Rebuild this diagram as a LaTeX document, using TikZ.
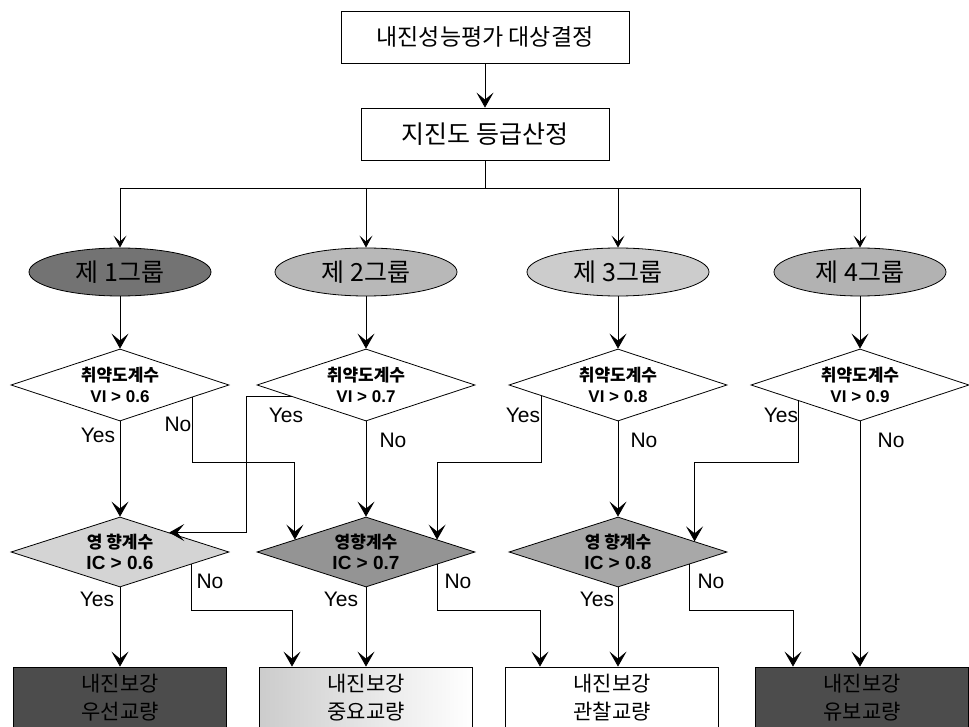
\documentclass[tikz,border=0pt]{standalone}
\usepackage{fontspec}
\setmainfont{Liberation Sans}
\newfontfamily\krfont{Noto Sans CJK KR}
\usetikzlibrary{arrows.meta, shapes.geometric, calc}
\definecolor{grpone}{gray}{0.45}
\definecolor{grptwo}{gray}{0.72}
\definecolor{grpthree}{gray}{0.80}
\definecolor{grpfour}{gray}{0.70}
\definecolor{icone}{gray}{0.83}
\definecolor{ictwo}{gray}{0.58}
\definecolor{icthree}{gray}{0.66}
\definecolor{resdark}{gray}{0.30}
\definecolor{resmid}{gray}{0.80}

\begin{document}
\begin{tikzpicture}[x=1pt, y=-1pt,
    procbox/.style={draw, line width=0.8pt, fill=white, minimum width=#1, minimum height=52pt,
                    font=\krfont\fontsize{23}{27}\selectfont},
    grpnode/.style={ellipse, draw, line width=0.8pt, fill=#1, minimum width=182pt, minimum height=48pt,
                    inner sep=0pt, font=\krfont\fontsize{25}{28}\selectfont},
    decide/.style={diamond, draw, line width=0.8pt, fill=#1, aspect=3, minimum width=218pt,
                   minimum height=72pt, inner sep=0pt, align=center, font=\bfseries\fontsize{17}{21}\selectfont},
    result/.style={draw, line width=0.8pt, fill=#1, minimum width=213pt, minimum height=62pt,
                   align=center, text=black, font=\krfont\fontsize{21}{28}\selectfont},
    lbl/.style={font=\fontsize{21}{24}\selectfont, inner sep=0pt},
    link/.style={line width=0.8pt},
    arr/.style={-{Stealth[length=15pt, width=17pt, inset=7pt]}, line width=0.8pt},
    arrs/.style={-{Stealth[length=12pt, width=13pt, inset=6pt]}, line width=0.8pt},
]
    \useasboundingbox (0,0) rectangle (969,727);
    \clip (0,0) rectangle (969,727);

    % Top of the flow
    \node[procbox=288pt] (target) at (485,37) {내진성능평가 대상결정};
    \node[procbox=248pt, font=\krfont\fontsize{25}{28}\selectfont] (grade) at (485,134) {지진도 등급산정};
    \draw[arr] (target) -- (grade);

    % Groups
    \node[grpnode=grpone]   (g1) at (120,272) {제 1그룹};
    \node[grpnode=grptwo]   (g2) at (366,272) {제 2그룹};
    \node[grpnode=grpthree] (g3) at (618,272) {제 3그룹};
    \node[grpnode=grpfour, minimum width=172pt] (g4) at (860,272) {제 4그룹};

    \coordinate (bus) at (485,188);
    \draw[link] (grade.south) -- (bus);
    \draw[link] (g1.north |- bus) -- (g4.north |- bus);
    \foreach \g in {g1,g2,g3,g4}
        \draw[arrs] (\g.north |- bus) -- (\g.north);

    % Vulnerability checks
    \node[decide=white] (vi1) at (120,385) {{\krfont 취약도계수}\\VI > 0.6};
    \node[decide=white] (vi2) at (366,385) {{\krfont 취약도계수}\\VI > 0.7};
    \node[decide=white] (vi3) at (618,385) {{\krfont 취약도계수}\\VI > 0.8};
    \node[decide=white] (vi4) at (860,385) {{\krfont 취약도계수}\\VI > 0.9};
    \foreach \i in {1,...,4}
        \draw[arr] (g\i.south) -- (vi\i.north);

    % Importance checks
    \node[decide=icone, minimum height=70pt]   (ic1) at (120,552) {{\krfont 영 향계수}\\\fontsize{19}{21}\selectfont IC > 0.6};
    \node[decide=ictwo, minimum height=70pt]   (ic2) at (366,552) {{\krfont 영향계수}\\\fontsize{19}{21}\selectfont IC > 0.7};
    \node[decide=icthree, minimum height=70pt] (ic3) at (618,552) {{\krfont 영 향계수}\\\fontsize{19}{21}\selectfont IC > 0.8};

    % Results
    \node[result=resdark] (r1) at (120,698) {내진보강\\우선교량};
    \node[result=white, left color=resmid, right color=white] (r2) at (366,698) {내진보강\\중요교량};
    \node[result=white] (r3) at (612,698) {내진보강\\관찰교량};
    \node[result=resdark] (r4) at (862,698) {내진보강\\유보교량};

    \coordinate (lvlA) at (0,462);
    \coordinate (lvlB) at (0,610);

    % Branch points on the diamond edges
    \coordinate (vi1no)  at ($(vi1.east)!0.34!(vi1.south)$);
    \coordinate (vi2yes) at ($(vi2.west)!0.32!(vi2.south)$);
    \coordinate (vi3yes) at ($(vi3.west)!0.3!(vi3.south)$);
    \coordinate (vi4yes) at ($(vi4.west)!0.44!(vi4.south)$);
    \coordinate (ic1no)  at ($(ic1.east)!0.35!(ic1.south)$);
    \coordinate (ic2no)  at ($(ic2.east)!0.35!(ic2.south)$);
    \coordinate (ic3no)  at ($(ic3.east)!0.35!(ic3.south)$);
    \coordinate (ic1in)  at ($(ic1.east)!0.55!(ic1.north)$);
    \coordinate (ic2inl) at ($(ic2.west)!0.35!(ic2.north)$);
    \coordinate (ic2inr) at ($(ic2.east)!0.35!(ic2.north)$);
    \coordinate (ic3in)  at ($(ic3.east)!0.3!(ic3.north)$);

    % Yes / No from the vulnerability checks
    \draw[arr] (vi1.south) -- (ic1.north);
    \draw[arr] (vi1no) -- (vi1no |- lvlA) -| (ic2inl);
    \draw[arr] (vi2yes) -- ++(-45,0) |- (ic1in);
    \draw[arr] (vi2.south) -- (ic2.north);
    \draw[arr] (vi3yes) -- (vi3yes |- lvlA) -| (ic2inr);
    \draw[arr] (vi3.south) -- (ic3.north);
    \draw[arr] (vi4yes) -- (vi4yes |- lvlA) -| (ic3in);
    \draw[arr] (vi4.south) -- (vi4.south |- r4.north);

    % Yes / No from the importance checks
    \draw[arr] (ic1.south) -- (r1.north);
    \draw[arr] (ic1no) -- (ic1no |- lvlB) -| ([xshift=-74pt]r2.north);
    \draw[arr] (ic2.south) -- (r2.north);
    \draw[arr] (ic2no) -- (ic2no |- lvlB) -| ([xshift=-72pt]r3.north);
    \draw[arr] (ic3.south) -- (ic3.south |- r3.north);
    \draw[arr] (ic3no) -- (ic3no |- lvlB) -| ([xshift=-69pt]r4.north);

    % Branch labels
    \node[lbl] (y1) at (98,435) {Yes};
    \node[lbl] (n1) at (178,424) {No};
    \node[lbl] (y2) at (286,415) {Yes};
    \node[lbl] (n2) at (393,440) {No};
    \node[lbl] (y3) at (523,415) {Yes};
    \node[lbl] (n3) at (644,440) {No};
    \node[lbl] (y4) at (781,415) {Yes};
    \node[lbl] (n4) at (891,440) {No};
    \node[lbl] (y5) at (97,599) {Yes};
    \node[lbl] (n5) at (210,581) {No};
    \node[lbl] (y6) at (341,599) {Yes};
    \node[lbl] (n6) at (458,581) {No};
    \node[lbl] (y7) at (597,599) {Yes};
    \node[lbl] (n7) at (711,581) {No};
\end{tikzpicture}
\end{document}
